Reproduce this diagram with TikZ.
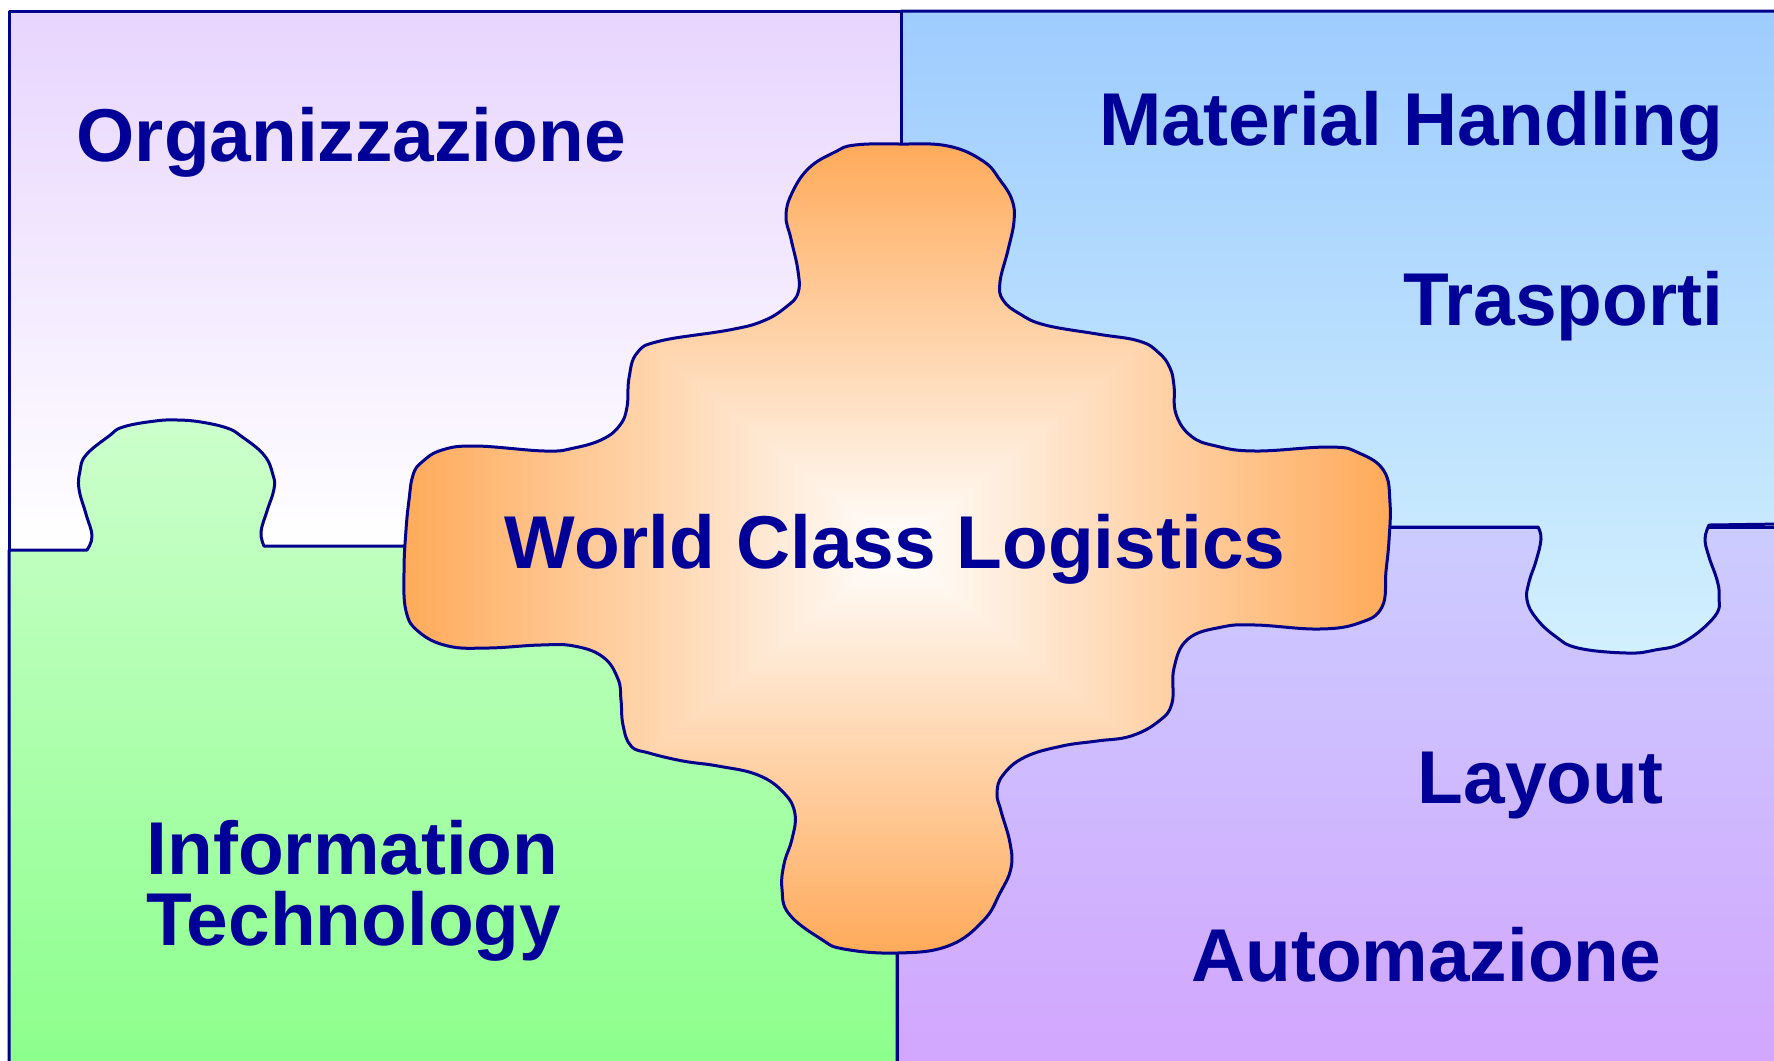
\documentclass[tikz,border=0pt]{standalone}
\usepackage{fontspec}
\setmainfont{Liberation Sans}
\usepackage{tikz}
\usepackage{xcolor}

\definecolor{lineblue}{RGB}{0,0,140}
\definecolor{textblue}{RGB}{0,0,153}
\definecolor{lilac}{RGB}{232,213,254}
\definecolor{skytop}{RGB}{158,204,254}
\definecolor{skybot}{RGB}{210,240,254}
\definecolor{mintop}{RGB}{204,255,204}
\definecolor{minbot}{RGB}{140,255,140}
\definecolor{lavtop}{RGB}{204,204,255}
\definecolor{lavbot}{RGB}{210,166,254}

% white in the middle, orange towards the rim
\pgfdeclarefunctionalshading{wclglow}{\pgfpoint{-50bp}{-50bp}}{\pgfpoint{50bp}{50bp}}{}{
	abs exch abs 2 copy lt {exch} if pop 25 div dup 1 gt {pop 1} if
	dup 0.333 mul 1 exch sub exch 0.647 mul 1 exch sub 1 3 1 roll
}

\begin{document}
\begin{tikzpicture}[x=0.1mm,y=-0.1mm,
		edge/.style = {draw=lineblue, line width=0.3mm, line join=round},
		word/.style = {text=textblue, inner sep=0pt,
			font=\fontsize{21.3}{20.2}\selectfont\bfseries}]
			%\draw[help lines] (0,0) grid[step=100] (1774,1060);
			\useasboundingbox (0,0) rectangle (1774,1060);
			\clip (0,0) rectangle (1774,1060);
			
			\path[edge, top color=lavtop, bottom color=lavbot] (897,527) rectangle (1781,1066);
			\path[edge, top color=skytop, bottom color=skybot]
				(901,11) -- (1781,11) -- (1781,524) -- (1709,525)
				-- plot[smooth, tension=0.7] coordinates {(1709,525) (1705,539) (1709,557) (1717,580) (1719,596) (1715,616) (1684,642) (1655,650) (1627,653) (1578,648) (1555,636) (1536,618) (1527,600) (1529,582) (1536,561) (1541,539) (1538,527)}
				-- (901,527) -- cycle;
			\path[edge, top color=lilac, bottom color=white] (9,11) rectangle (901,550);
			\path[edge, top color=mintop, bottom color=minbot]
				(9,1066) -- (9,550) -- (87,550)
				-- plot[smooth, tension=0.7] coordinates {(87,550) (92,536) (86,514) (79,489) (80,471) (86,455) (109,436) (123,427) (155,421) (178,420) (201,422) (227,428) (241,436) (264,455) (273,475) (274,489) (267,511) (261,532) (264,546)}
				-- (897,546) -- (897,1066) -- cycle;
			
			\path[edge, shade, shading=wclglow] plot[smooth cycle, tension=0.7] coordinates {
				(835,152) (855,145) (900,144) (948,146) (983,161) (1000,180) (1012,200) (1014,221)
				(1008,250) (1000,282) (1003,300) (1020,314) (1045,325) (1097,334) (1139,341) (1159,353)
				(1170,368) (1174,386) (1176,414) (1191,436) (1216,446) (1256,451) (1330,447) (1359,453)
				(1384,471) (1390,503) (1389,540) (1386,571) (1382,607) (1359,623) (1319,629) (1256,625)
				(1222,627) (1188,639) (1174,668) (1172,703) (1159,721) (1131,736) (1097,741) (1062,746)
				(1025,757) (1003,775) (997,793) (1001,811) (1010,843) (1011,868) (1000,893) (983,921)
				(948,946) (897,953) (844,949) (821,939) (789,914) (782,889) (784,864) (792,839)
				(795,814) (784,793) (758,775) (718,766) (683,761) (649,753) (631,746) (623,725)
				(621,700) (618,679) (603,657) (574,646) (540,645) (488,648) (448,646) (419,632)
				(406,611) (404,571) (406,530) (409,500) (413,475) (422,462) (442,450) (476,446)
				(545,451) (574,448) (603,439) (620,425) (627,407) (629,378) (637,353) (660,341)
				(729,330) (763,321) (786,307) (798,293) (798,271) (791,239) (786,216) (792,193) (809,168)};
			
			\node[word, anchor=base west] (org) at (76,161) {Organizzazione};
			\node[word, anchor=base east] (mh) at (1724,145) {Material Handling};
			\node[word, anchor=base east] (tr) at (1724,325) {Trasporti};
			\node[word, anchor=base] (wcl) at (895,568) {World Class Logistics};
			\node[word, anchor=north west, align=left] (it) at (146,820) {Information\\Technology};
			\node[word, anchor=base east] (lay) at (1664,803) {Layout};
			\node[word, anchor=base east] (aut) at (1662,981) {Automazione};
		\end{tikzpicture}
\end{document}
